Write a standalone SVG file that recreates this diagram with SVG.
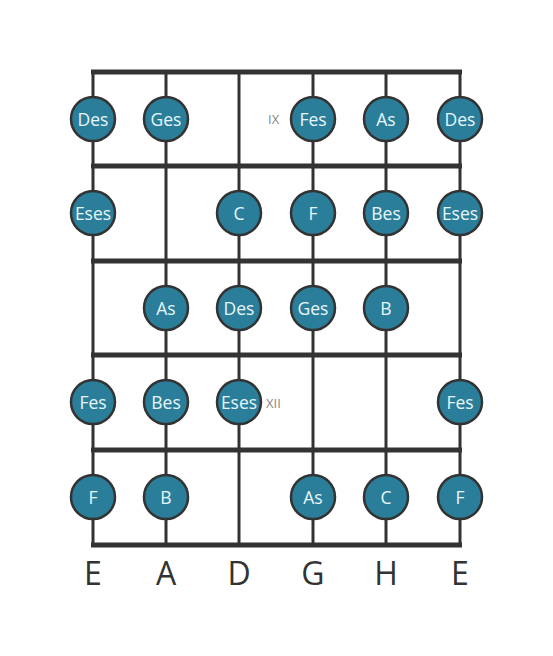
<svg xmlns="http://www.w3.org/2000/svg" width="553" height="656" viewBox="0 0 553 656">
<style>
.str{stroke:#333;stroke-width:3;fill:none}
.fret{stroke:#333;stroke-width:5;fill:none}
.n circle{fill:#2a7e9a;stroke:#333;stroke-width:2.5}
.n text{fill:#e8f6fa;font-family:"Open Sans",sans-serif;font-size:17.5px;text-anchor:middle;dominant-baseline:central}
.lbl{fill:#333;font-family:"Open Sans",sans-serif;font-size:32px;text-anchor:middle}
.fn{fill:#888;font-family:"Open Sans",sans-serif;font-size:13px}
</style>
<rect width="553" height="656" fill="#fff"/>
<g id="connectors">
<line class="str" x1="93" y1="72" x2="93" y2="545"/>
<line class="str" x1="166" y1="72" x2="166" y2="545"/>
<line class="str" x1="239" y1="72" x2="239" y2="545"/>
<line class="str" x1="313" y1="72" x2="313" y2="545"/>
<line class="str" x1="386" y1="72" x2="386" y2="545"/>
<line class="str" x1="460" y1="72" x2="460" y2="545"/>
<line class="fret" x1="91" y1="72" x2="462" y2="72"/>
<line class="fret" x1="91" y1="166" x2="462" y2="166"/>
<line class="fret" x1="91" y1="261" x2="462" y2="261"/>
<line class="fret" x1="91" y1="355" x2="462" y2="355"/>
<line class="fret" x1="91" y1="450" x2="462" y2="450"/>
<line class="fret" x1="91" y1="545" x2="462" y2="545"/>
</g>
<text class="fn" x="268" y="124">IX</text>
<text class="fn" x="266" y="408">XII</text>
<g id="n1" class="n"><circle cx="93" cy="119" r="22"/><text x="93" y="119">Des</text></g>
<g id="n2" class="n"><circle cx="166" cy="119" r="22"/><text x="166" y="119">Ges</text></g>
<g id="n3" class="n"><circle cx="313" cy="119" r="22"/><text x="313" y="119">Fes</text></g>
<g id="n4" class="n"><circle cx="386" cy="119" r="22"/><text x="386" y="119">As</text></g>
<g id="n5" class="n"><circle cx="460" cy="119" r="22"/><text x="460" y="119">Des</text></g>
<g id="n6" class="n"><circle cx="93" cy="213" r="22"/><text x="93" y="213">Eses</text></g>
<g id="n7" class="n"><circle cx="239" cy="213" r="22"/><text x="239" y="213">C</text></g>
<g id="n8" class="n"><circle cx="313" cy="213" r="22"/><text x="313" y="213">F</text></g>
<g id="n9" class="n"><circle cx="386" cy="213" r="22"/><text x="386" y="213">Bes</text></g>
<g id="n10" class="n"><circle cx="460" cy="213" r="22"/><text x="460" y="213">Eses</text></g>
<g id="n11" class="n"><circle cx="166" cy="308" r="22"/><text x="166" y="308">As</text></g>
<g id="n12" class="n"><circle cx="239" cy="308" r="22"/><text x="239" y="308">Des</text></g>
<g id="n13" class="n"><circle cx="313" cy="308" r="22"/><text x="313" y="308">Ges</text></g>
<g id="n14" class="n"><circle cx="386" cy="308" r="22"/><text x="386" y="308">B</text></g>
<g id="n15" class="n"><circle cx="93" cy="402" r="22"/><text x="93" y="402">Fes</text></g>
<g id="n16" class="n"><circle cx="166" cy="402" r="22"/><text x="166" y="402">Bes</text></g>
<g id="n17" class="n"><circle cx="239" cy="402" r="22"/><text x="239" y="402">Eses</text></g>
<g id="n18" class="n"><circle cx="460" cy="402" r="22"/><text x="460" y="402">Fes</text></g>
<g id="n19" class="n"><circle cx="93" cy="497" r="22"/><text x="93" y="497">F</text></g>
<g id="n20" class="n"><circle cx="166" cy="497" r="22"/><text x="166" y="497">B</text></g>
<g id="n21" class="n"><circle cx="313" cy="497" r="22"/><text x="313" y="497">As</text></g>
<g id="n22" class="n"><circle cx="386" cy="497" r="22"/><text x="386" y="497">C</text></g>
<g id="n23" class="n"><circle cx="460" cy="497" r="22"/><text x="460" y="497">F</text></g>
<text class="lbl" x="93" y="585">E</text>
<text class="lbl" x="166" y="585">A</text>
<text class="lbl" x="239" y="585">D</text>
<text class="lbl" x="313" y="585">G</text>
<text class="lbl" x="386" y="585">H</text>
<text class="lbl" x="460" y="585">E</text>
</svg>
